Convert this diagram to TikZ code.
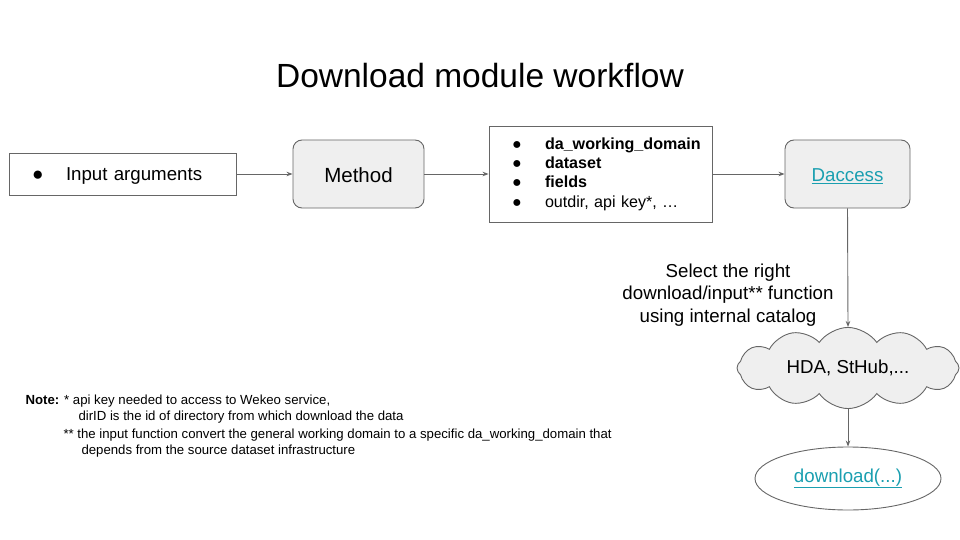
\documentclass[tikz,border=0pt]{standalone}
\usepackage{fontspec}
\setmainfont{Liberation Sans}
\usetikzlibrary{shapes.symbols,shapes.geometric,arrows.meta}
\definecolor{edgegray}{HTML}{666666}
\definecolor{boxfill}{HTML}{EFEFEF}
\definecolor{linkcol}{HTML}{1A9FB0}
\tikzset{
  plainbox/.style={draw=edgegray,line width=0.9pt,fill=white,rectangle},
  roundbox/.style={draw=edgegray,line width=0.9pt,fill=boxfill,rectangle,rounded corners=9pt,
    minimum width=125pt,minimum height=68pt,inner sep=0pt,text depth=0pt},
  flow/.style={draw=edgegray,line width=0.9pt,-{Stealth[length=6pt,width=4.5pt]}},
  notetext/.style={anchor=base west,font=\fontsize{13.2}{15}\selectfont},
}
\begin{document}
\begin{tikzpicture}[x=1pt,y=-1pt]
\useasboundingbox (0,0) rectangle (960,540);
% title
\node[font=\fontsize{33.5}{40}\selectfont,text height=24pt,text depth=0pt,inner sep=0pt] (title) at (480,76) {Download module workflow};
% input box
\node[plainbox,minimum width=227pt,minimum height=42pt,text width=181pt,inner xsep=22pt,inner ysep=0pt,align=left,
  text height=13.4pt,text depth=0pt,font=\fontsize{18.7}{22}\selectfont] (input) at (122.5,174)
  {\makebox[34pt][l]{\raisebox{0.5pt}{\fontsize{19}{16}\selectfont●}}Input arguments};
% method
\node[roundbox,minimum width=131pt,text height=14.7pt,font=\fontsize{20.5}{24}\selectfont] (method) at (358.5,174) {\raisebox{-1pt}{Method}};
% parameter box
\node[plainbox,minimum width=223pt,minimum height=96pt,text width=177pt,inner xsep=23pt,inner ysep=0pt,align=left,
  font=\fontsize{16.1}{19.3}\selectfont] (params) at (600.5,174)
  {\makebox[33pt][l]{\fontsize{16}{14}\selectfont●}\textbf{da\_working\_domain}\\
   \makebox[33pt][l]{\fontsize{16}{14}\selectfont●}\textbf{dataset}\\
   \makebox[33pt][l]{\fontsize{16}{14}\selectfont●}\textbf{fields}\\
   \makebox[33pt][l]{\fontsize{16}{14}\selectfont●}outdir, api key*, …};
% daccess
\node[roundbox,text height=13.4pt,font=\fontsize{18.7}{22}\selectfont] (daccess) at (847.5,174) {\raisebox{-1pt}{\textcolor{linkcol}{\underline{Daccess}}}};
% cloud
\node[cloud,cloud puffs=12,cloud puff arc=110,aspect=2.9,draw=edgegray,line width=0.9pt,fill=boxfill,
  minimum width=222pt,minimum height=78pt,inner sep=0pt,font=\fontsize{18.7}{22}\selectfont] (cloud) at (848,368) {HDA, StHub,...};
% ellipse
\node[ellipse,draw=edgegray,line width=0.9pt,fill=white,minimum width=186pt,minimum height=63pt,inner sep=0pt,
  font=\fontsize{18.7}{22}\selectfont] (dl) at (848,478.5) {\textcolor{linkcol}{\underline{download(...)}}};
% label
\node[align=center,font=\fontsize{18.7}{22.5}\selectfont] (sel) at (728,295)
  {Select the right\\download/input** function\\using internal catalog};
% connectors
\draw[flow] (input.east) -- (method.west |- input.east);
\draw[flow] (method.east |- params.west) -- (params.west);
\draw[flow] (params.east) -- (daccess.west |- params.east);
\draw[flow] (daccess.south) -- (cloud.north);
\draw[flow] (cloud.south) -- (dl.north);
% note
\node[notetext] (note1) at (22,404) {\textbf{Note:} * api key needed to access to Wekeo service,};
\node[notetext] (note2) at (75,420.5) {dirID is the id of directory from which download the data};
\node[notetext] (note3) at (60,438) {** the input function convert the general working domain to a specific da\_working\_domain that};
\node[notetext] (note4) at (78,454) {depends from the source dataset infrastructure};
\end{tikzpicture}
\end{document}
